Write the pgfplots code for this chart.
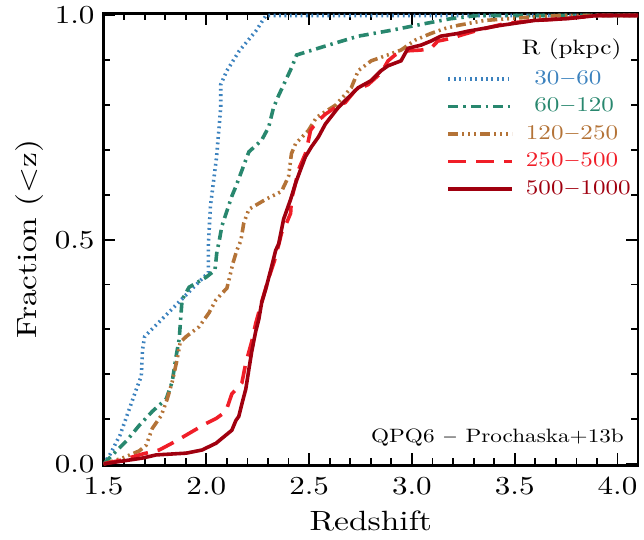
\documentclass[border=0pt]{standalone}
\usepackage{fontspec}
\setmainfont{lmroman10-regular.otf}[FakeStretch=1.2]
\usepackage{pgfplots}
\pgfplotsset{compat=1.18}
\definecolor{cblue}{RGB}{60,130,190}
\definecolor{cgreen}{RGB}{40,135,110}
\definecolor{cbrown}{RGB}{180,115,55}
\definecolor{cred}{RGB}{240,30,40}
\definecolor{cdred}{RGB}{160,0,15}
\begin{document}
\begin{tikzpicture}
\begin{axis}[
  name=ax,
  scale only axis,
  width=268.5pt, height=227pt,
  xmin=1.5, xmax=4.1, ymin=-0.003, ymax=1.005,
  xtick={1.5,2.0,2.5,3.0,3.5,4.0},
  xticklabels={1.5,2.0,2.5,3.0,3.5,4.0},
  ytick={0,0.5,1},
  yticklabels={0.0,0.5,1.0},
  minor x tick num=4, minor y tick num=4,
  tick align=inside,
  major tick length=6pt, minor tick length=3.5pt,
  every tick/.style={black, line width=0.9pt},
  axis line style={line width=1.4pt},
  tick label style={font=\fontsize{13}{15}\selectfont},
  xticklabel style={yshift=-2.5pt},
  yticklabel style={xshift=-1pt},
  xlabel={Redshift}, ylabel={Fraction (<z)},
  label style={font=\fontsize{14}{16}\selectfont},
  xlabel style={yshift=-1pt},
  ylabel style={yshift=-1pt},
  legend style={draw=none, fill=none, at={(rel axis cs:0.63,0.892)}, anchor=north west,
     font=\fontsize{10.5}{12}\selectfont, row sep=1.3pt, legend cell align=left},
  legend image code/.code={\draw[#1] (0pt,0pt) -- (32pt,0pt);},
  every axis plot/.append style={line width=1.8pt},
]
\addplot[cblue, dash pattern=on 0.9pt off 1.8pt] coordinates {
(1.5,0) (1.53,0.02) (1.58,0.064) (1.626,0.123) (1.66,0.167) (1.684,0.196) (1.69,0.256) (1.70,0.284)
(2.01,0.427) (2.01,0.49) (2.02,0.575) (2.05,0.685) (2.07,0.795) (2.07,0.846)
(2.10,0.877) (2.16,0.921) (2.24,0.965) (2.29,1.0) (4.1,1.0)};
\addlegendentry{\hspace{4pt}\textcolor{cblue}{\ 30$-$60}}
\addplot[cgreen, dash pattern=on 5pt off 2.5pt on 1.2pt off 2.5pt] coordinates {
(1.5,0) (1.563,0.029) (1.611,0.051) (1.674,0.086) (1.737,0.117) (1.805,0.145)
(1.834,0.183) (1.853,0.240) (1.868,0.278) (1.882,0.366) (1.916,0.394) (1.998,0.416)
(2.042,0.432) (2.052,0.476) (2.061,0.493) (2.076,0.531) (2.124,0.597) (2.144,0.619)
(2.192,0.678) (2.207,0.696) (2.269,0.722) (2.303,0.751) (2.327,0.795) (2.352,0.822)
(2.414,0.883) (2.439,0.912) (2.579,0.932) (2.739,0.954) (2.898,0.967) (3.063,0.982)
(3.189,0.993) (3.32,1.0) (4.1,1.0)};
\addlegendentry{\hspace{4pt}\textcolor{cgreen}{\ 60$-$120}}
\addplot[cbrown, dash pattern=on 5pt off 2pt on 1pt off 2pt on 1pt off 2pt on 1pt off 2pt] coordinates {
(1.5,0) (1.592,0.013) (1.674,0.029) (1.708,0.042) (1.737,0.079) (1.781,0.108)
(1.810,0.145) (1.834,0.183) (1.858,0.233) (1.873,0.271) (1.902,0.284) (1.965,0.306)
(2.013,0.337) (2.047,0.366) (2.100,0.392) (2.110,0.410) (2.129,0.447) (2.148,0.476)
(2.168,0.498) (2.182,0.537) (2.207,0.568) (2.289,0.590) (2.337,0.601) (2.366,0.608)
(2.400,0.641) (2.414,0.692) (2.434,0.714) (2.497,0.744) (2.536,0.773) (2.628,0.800)
(2.705,0.839) (2.739,0.877) (2.802,0.899) (2.870,0.910) (2.947,0.923) (3.015,0.945)
(3.092,0.960) (3.160,0.971) (3.223,0.978) (3.353,0.989) (3.56,0.996) (3.71,1.0) (4.1,1.0)};
\addlegendentry{\hspace{4pt}\textcolor{cbrown}{120$-$250}}
\addplot[cred, dash pattern=on 9pt off 5pt] coordinates {
(1.5,0) (1.592,0.009) (1.689,0.022) (1.771,0.031) (1.853,0.051) (1.916,0.068)
(1.998,0.090) (2.047,0.101) (2.095,0.117) (2.124,0.156) (2.173,0.181) (2.192,0.225)
(2.221,0.273) (2.240,0.313) (2.269,0.361) (2.303,0.414) (2.332,0.454) (2.352,0.489)
(2.366,0.515) (2.390,0.537) (2.410,0.559) (2.414,0.590) (2.434,0.626) (2.448,0.656)
(2.482,0.692) (2.497,0.722) (2.507,0.744) (2.536,0.762) (2.579,0.780) (2.628,0.795)
(2.676,0.806) (2.724,0.833) (2.787,0.846) (2.850,0.872) (2.884,0.899) (2.918,0.912)
(2.966,0.921) (3.044,0.923) (3.092,0.927) (3.126,0.943) (3.189,0.949) (3.237,0.956)
(3.319,0.967) (3.450,0.982) (3.595,0.989) (3.740,0.993) (3.90,1.0) (4.1,1.0)};
\addlegendentry{\hspace{4pt}\textcolor{cred}{250$-$500}}
\addplot[cdred] coordinates {
(1.5,0) (1.689,0.013) (1.756,0.020) (1.902,0.024) (1.979,0.031) (2.047,0.046)
(2.100,0.066) (2.124,0.075) (2.144,0.097) (2.158,0.106) (2.173,0.134) (2.192,0.167)
(2.207,0.211) (2.221,0.251) (2.240,0.295) (2.255,0.322) (2.269,0.359) (2.289,0.390)
(2.313,0.432) (2.337,0.476) (2.352,0.491) (2.376,0.546) (2.410,0.590) (2.434,0.626)
(2.458,0.656) (2.482,0.685) (2.511,0.707) (2.545,0.729) (2.579,0.758) (2.642,0.795)
(2.690,0.817) (2.739,0.839) (2.802,0.855) (2.850,0.877) (2.884,0.888) (2.947,0.899)
(2.981,0.927) (3.044,0.934) (3.092,0.943) (3.140,0.954) (3.223,0.960) (3.271,0.965)
(3.431,0.978) (3.595,0.989) (3.755,0.993) (3.90,1.0) (4.1,1.0)};
\addlegendentry{\hspace{4pt}\textcolor{cdred}{500$-$1000}}
\node[anchor=base west, inner sep=0pt, font=\fontsize{10.5}{12}\selectfont] at (rel axis cs:0.782,0.908) {R (pkpc)};
\node[anchor=base east, inner sep=0pt, font=\fontsize{9.7}{12}\selectfont] at (rel axis cs:0.974,0.05) {QPQ6 $-$ Prochaska+13b};
\end{axis}
\path (ax.south west) ++(-52pt,-37.5pt) coordinate (bl);
\path (ax.north east) ++(1.5pt,6pt) coordinate (tr);
\path (bl) rectangle (tr);
\end{tikzpicture}
\end{document}
